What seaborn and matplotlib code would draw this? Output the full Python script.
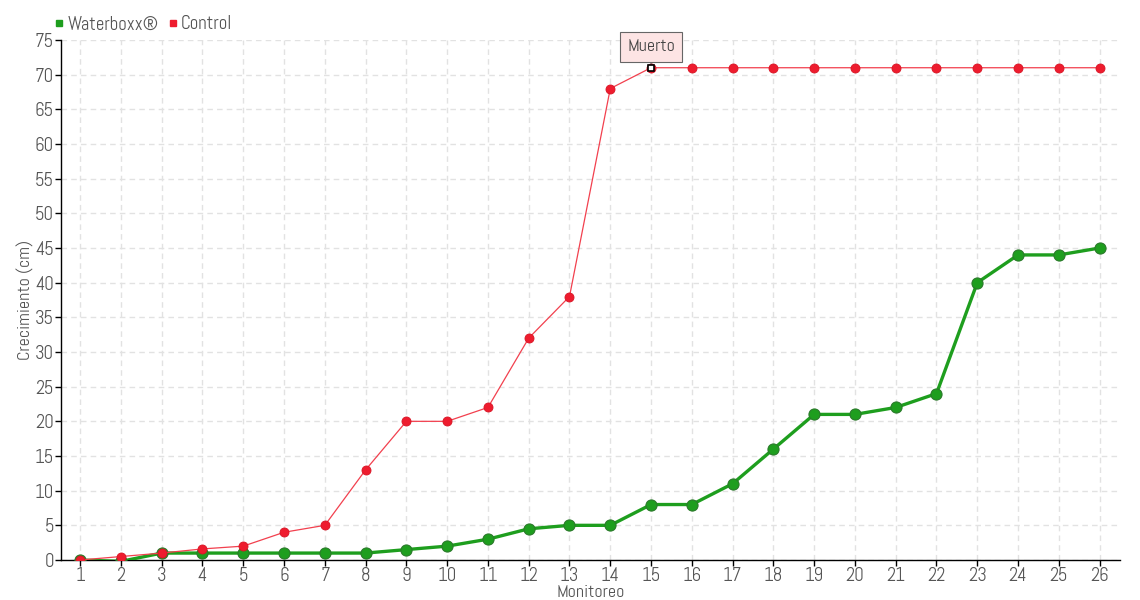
import matplotlib
matplotlib.use("Agg")
import matplotlib.pyplot as plt
import seaborn as sns
import pandas as pd
from matplotlib import font_manager
from matplotlib.lines import Line2D

monitoreo = list(range(1, 27))
waterboxx = [0, -0.2, 1, 1, 1, 1, 1, 1, 1.5, 2, 3, 4.5, 5, 5, 8, 8, 11, 16, 21, 21, 22, 24, 40, 44, 44, 45]
control = [0, 0.5, 1, 1.6, 2, 4, 5, 13, 20, 20, 22, 32, 38, 68, 71, 71, 71, 71, 71, 71, 71, 71, 71, 71, 71, 71]
series_names = ["Waterboxx®", "Control"]
y_ticks = list(range(0, 80, 5))
annot_text = "Muerto"
annot_x = 15

sns.set_theme(style="white")
names = {f.name for f in font_manager.fontManager.ttflist}
fam = "DejaVu Sans"
for cand in ["Abel", "Dosis", "Archivo Narrow", "Liberation Sans Narrow"]:
    if cand in names:
        fam = cand
        break
plt.rcParams['font.family'] = [fam, 'DejaVu Sans']

GREEN = "#1e9e1e"
RED = "#ee1c2e"
TXT = "#555555"

fig = plt.figure(figsize=(11.4, 6), dpi=100)
ax = fig.add_axes([61/1140, 40/600, (1120-61)/1140, 520/600])

df_w = pd.DataFrame({"x": monitoreo, "y": waterboxx})
df_c = pd.DataFrame({"x": monitoreo, "y": control})

sns.lineplot(data=df_w, x="x", y="y", ax=ax, color=GREEN, linewidth=2.4,
             marker="o", markersize=8, markeredgecolor="#2b7a2b", markeredgewidth=0.8,
             zorder=3)
sns.lineplot(data=df_c, x="x", y="y", ax=ax, color="#f2404e", linewidth=0.9,
             marker="o", markersize=6.5, markerfacecolor=RED, markeredgecolor="#d81424",
             markeredgewidth=0.6, zorder=4)

ax.plot([annot_x], [control[annot_x-1]], marker="s", markersize=4.5,
        markerfacecolor="white", markeredgecolor="black", markeredgewidth=1.2,
        linestyle="none", zorder=6)
ax.annotate(annot_text, xy=(annot_x, control[annot_x-1]), xytext=(0, 15),
            textcoords="offset points", ha="center", va="center",
            fontsize=13, color="#444444",
            bbox=dict(boxstyle="square,pad=0.38", fc="#fde4e4", ec="#666666", lw=0.8),
            arrowprops=dict(arrowstyle="-", color="#666666", lw=0.8, shrinkA=0, shrinkB=3),
            zorder=7)

ax.set_xlim(0.53, 26.5)
ax.set_ylim(0, 75)
ax.set_xticks(monitoreo)
ax.set_xticklabels([str(m) for m in monitoreo])
ax.set_yticks(y_ticks)
ax.grid(True, color="#e2e2e2", linestyle=(0, (4, 3)), linewidth=1)
ax.set_axisbelow(True)
for s in ["top", "right"]:
    ax.spines[s].set_visible(False)
for s in ["left", "bottom"]:
    ax.spines[s].set_color("black")
    ax.spines[s].set_linewidth(1)
ax.tick_params(axis="both", length=4, width=1, color="black", labelcolor=TXT,
               labelsize=13.5, direction="out", left=True, bottom=True, pad=1)
ax.set_xlabel("Monitoreo", color=TXT, fontsize=13, labelpad=0)
ax.set_ylabel("Crecimiento (cm)", color=TXT, fontsize=13, labelpad=0.5)

handles = [Line2D([], [], marker="s", color=GREEN, linestyle="none", markersize=4.5),
           Line2D([], [], marker="s", color=RED, linestyle="none", markersize=4.5)]
leg = fig.legend(handles, series_names, loc="upper left", bbox_to_anchor=(45/1140, 1 - 6/600),
                 ncol=2, frameon=False, handlelength=0.5, handletextpad=0.2,
                 columnspacing=0.5, fontsize=13.5, borderpad=0)
for t in leg.get_texts():
    t.set_color(TXT)

fig.savefig("out.png", dpi=100)
